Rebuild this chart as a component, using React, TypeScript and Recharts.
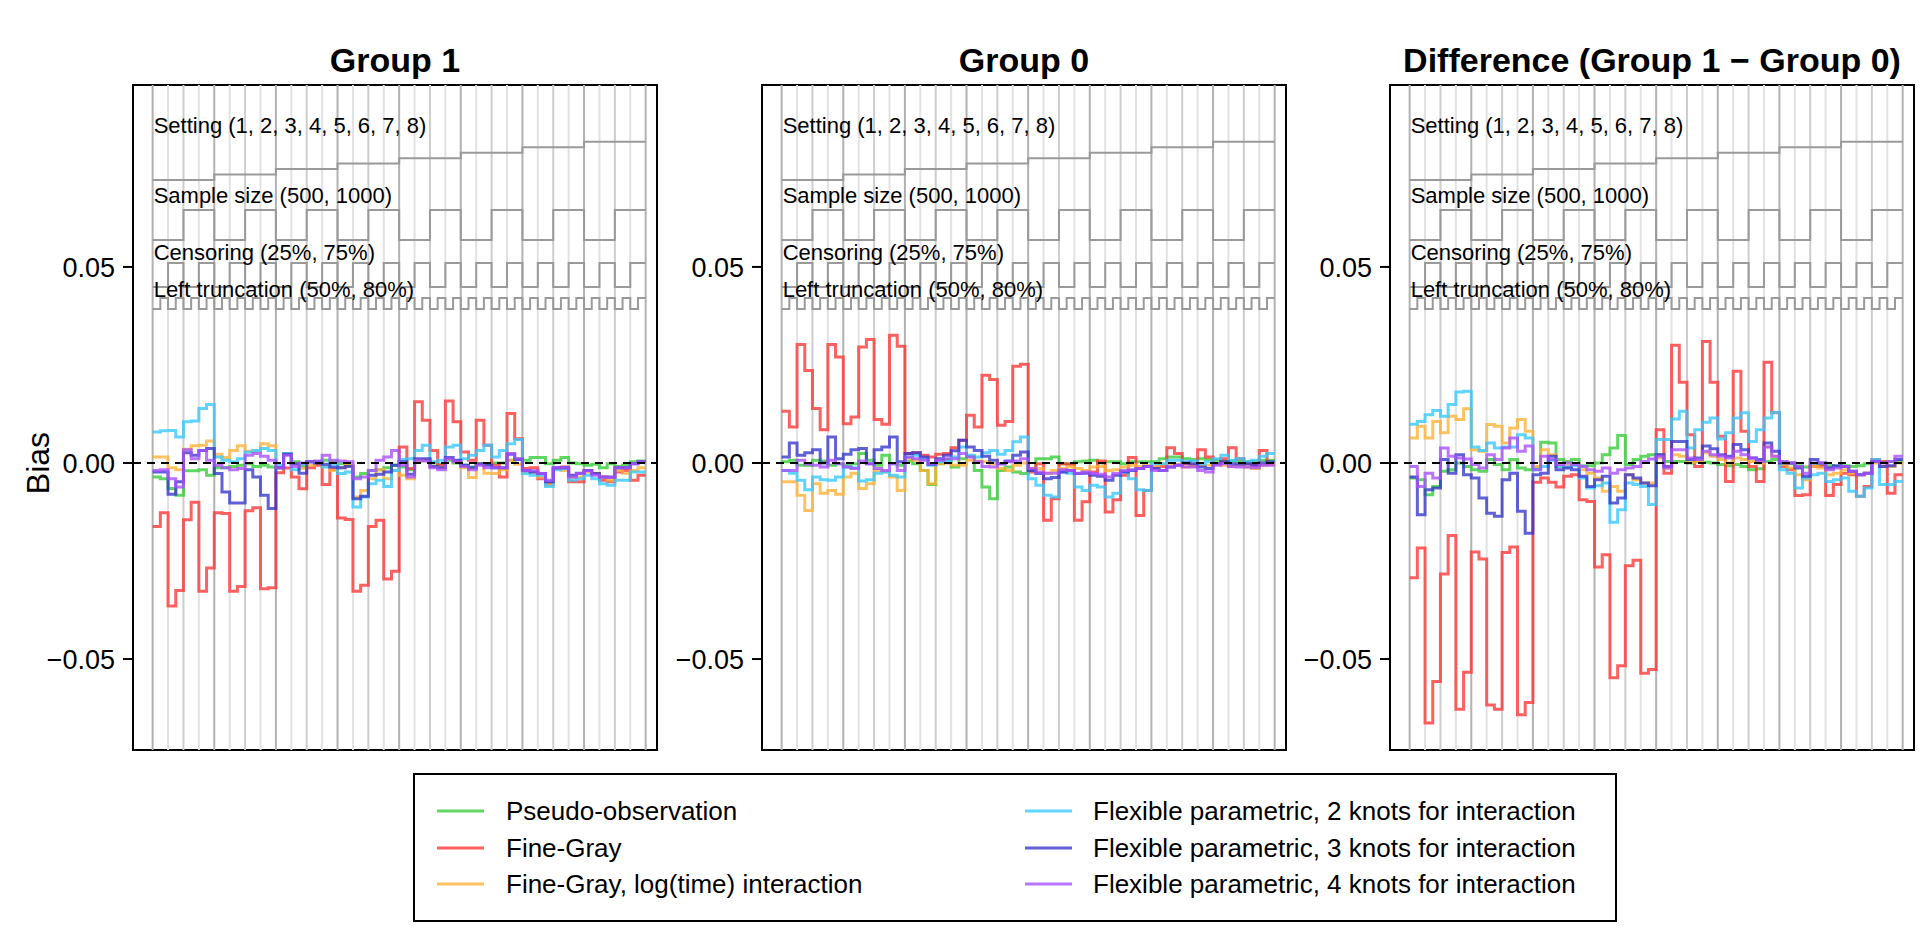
import React from "react";
import { LineChart, Line, XAxis, YAxis, ReferenceLine, ReferenceArea, ReferenceDot } from "recharts";

// nested design: 8 settings x 2 sample sizes x 2 censoring x 2 truncation = 64 scenarios
const settings = [1, 2, 3, 4, 5, 6, 7, 8];
const sampleSizes = [500, 1000];
const censoringLevels = ["25%", "75%"];
const truncationLevels = ["50%", "80%"];

const methodNames = [
  "Pseudo-observation",
  "Fine-Gray",
  "Fine-Gray, log(time) interaction",
  "Flexible parametric, 2 knots for interaction",
  "Flexible parametric, 3 knots for interaction",
  "Flexible parametric, 4 knots for interaction",
];
const methodKeys = ["pseudo", "fg", "fgLog", "flex2", "flex3", "flex4"];
const methodColors = ["#33cc33", "#ff3333", "#ffb133", "#33c8ff", "#3333cc", "#a64dff"];

const yTicks = [-0.05, 0, 0.05];

// bias values x 1000, one per scenario
const g1Pseudo = [-3.6, -4.0, -6.5, -8.2, -2.0, -2.0, -1.7, -3.1, -1.2, -1.2, -0.9, -0.6, -0.2, -0.9, -0.6, -1.0, -1.2, 2.2, 0.3, -0.9, 0.3, 0, 0.7, 0.3, -0.2, -0.6, -3.6, -2.7, -1.9, -1.7, -1.2, -0.6, -1.0, -1.7, 0.7, 0.7, 0, -0.3, 0.7, 0, -0.6, -1.0, -0.2, -0.2, 0, 0, 0.7, 1.1, 0.7, 1.4, 1.4, -0.2, 0.7, 1.4, 0, -0.2, -0.6, -0.3, -1.2, -0.2, -0.9, -0.6, 0.3, 0.5];
const g1Fg = [-16.2, -12.7, -36.5, -32.5, -14.5, -10.0, -32.7, -26.8, -12.7, -12.9, -32.7, -31.5, -12.2, -11.4, -32.1, -31.8, -2.5, -1.3, -3.6, -6.6, -1.2, -0.6, -5.5, -1.6, -14.0, -14.4, -32.7, -31.2, -16.2, -14.6, -29.6, -27.6, 4.1, -1.4, 15.6, 10.9, 3.2, -0.6, 15.8, 10.5, 2.8, 0.7, 10.9, 4.5, -0.6, -3.6, 12.6, 6.2, -1.4, -1.2, -4.0, -5.3, -1.4, -1.0, -4.8, -4.8, -1.9, -2.7, -4.4, -4.8, -2.3, -1.9, -4.4, -3.1];
const g1FgLog = [1.5, 1.5, -1.2, -1.7, 3.5, 4.4, 4.5, 5.6, 2.2, 1.4, 3.2, 4.4, 3.0, 3.0, 4.9, 4.4, -1.2, 2.4, -0.2, -1.4, -0.6, 0.3, -0.9, -1.9, -1.2, -0.6, -8.7, -7.0, -4.0, -1.7, -4.0, -1.9, -3.1, -4.0, 0.7, 0.7, -0.9, -1.2, 1.1, 0.3, -1.2, -3.7, -0.2, -2.6, -2.7, -1.7, 0.7, -0.3, -2.3, -2.3, -3.6, -5.7, -1.4, -1.9, -3.7, -3.6, -2.3, -2.7, -3.6, -4.4, -1.9, -2.6, -1.9, -1.2];
const g1Flex2 = [7.9, 8.2, 8.3, 6.6, 10.5, 10.7, 13.9, 14.9, 1.5, 0.7, 0.3, 1.1, 2.8, 3.2, 3.7, 3.2, -0.6, 2.4, -1.7, -0.2, 0.3, 0.3, -1.0, -0.2, -2.7, -2.3, -11.2, -8.7, -5.3, -4.4, -6.0, -1.9, 0.9, 1.1, 3.2, 4.5, 0.3, 0.7, 4.1, 4.5, 1.1, 2.0, 3.2, 4.5, 1.5, 3.2, 4.9, 6.0, -2.7, -3.1, -3.1, -6.0, -1.7, -1.4, -4.4, -4.0, -3.1, -4.0, -5.3, -5.7, -4.4, -4.4, -2.3, -2.3];
const g1Flex3 = [-2.3, -2.3, -8.0, -4.8, 2.6, 2.0, 3.2, 3.7, -2.7, -7.4, -10.2, -10.2, -1.7, -3.6, -8.2, -11.6, -1.2, 2.2, -0.2, -2.6, 0.3, 0, -0.3, -1.0, -1.2, -0.9, -9.1, -8.5, -3.1, -2.9, -2.3, -0.6, 0.3, -2.9, 1.1, 1.1, -0.9, -1.2, 1.4, 0.7, -0.6, -1.2, -0.2, -0.6, -1.2, -1.2, 2.2, 0.9, -1.9, -2.3, -2.7, -4.8, -1.2, -1.2, -3.1, -2.6, -1.9, -2.7, -3.6, -3.6, -1.2, -1.2, -0.2, 0.3];
const g1Flex4 = [-1.9, -1.7, -4.0, -6.1, 3.4, 1.1, 3.2, 0.7, -0.6, -1.2, -1.7, -1.4, 2.0, 2.4, 1.7, 0.7, -1.2, 2.0, -0.9, 0, 0.3, 0.5, 2.0, 0.7, 0.5, 0.3, -4.0, -3.6, -1.9, 0.7, 1.5, 3.2, -0.6, -3.6, 0.7, 0.5, -1.2, -1.7, 1.1, 0.3, -0.9, -1.7, -0.6, -1.2, -1.2, -1.2, 2.4, 1.1, -1.9, -2.0, -2.7, -4.4, -1.2, -1.2, -3.6, -2.7, -2.0, -3.1, -3.6, -3.7, -1.2, -1.2, -0.2, 0.3];

const g0Pseudo = [0.3, 0.7, -0.6, -0.6, 0.7, 0.5, -0.6, -0.2, -0.6, -0.2, 2.4, 0.7, -0.6, 2.0, -0.2, -0.6, 0.5, -0.2, -1.9, -5.5, -0.2, 0.9, -1.0, 1.1, 1.7, -1.9, -6.1, -9.1, -1.9, -1.0, -2.3, -2.7, -1.9, 1.1, 1.1, 1.5, -0.2, -0.2, 0.3, 0.5, 0.7, 0, 0.3, 0.3, -0.2, 0.3, 0.3, 0.3, 0.3, 1.1, 1.5, 1.5, 1.1, 0.9, 1.1, 0.9, 0.7, 0.5, 0.5, 0.5, 0.3, 0.3, 0.7, 0.7];
const g0Fg = [13.2, 9.2, 30.2, 23.6, 13.9, 8.5, 30.2, 27.0, 10.0, 11.7, 29.6, 31.5, 11.1, 9.9, 32.6, 29.8, 2.4, 2.6, 2.0, 1.5, 2.2, 2.4, 3.9, 5.8, 12.2, 9.2, 22.4, 21.3, 9.6, 10.6, 24.7, 25.2, -2.3, -0.2, -14.6, -9.1, -0.2, -0.3, -14.6, -9.9, -2.3, 0.5, -12.5, -9.4, -3.1, 1.4, -13.4, -7.0, -1.0, -0.9, 3.9, 2.4, -0.2, -0.6, 3.4, 1.5, -0.2, 1.1, 3.9, 1.1, -0.2, -0.6, 3.2, -0.3];
const g0FgLog = [-4.8, -4.8, -8.2, -12.1, -5.3, -7.7, -7.0, -8.0, -3.6, -2.6, -6.5, -5.3, -1.9, -2.3, -3.6, -7.0, 1.1, 0.7, -1.9, -5.3, -0.2, 0, -0.6, -0.6, 0.7, 0.5, 0.3, -0.2, -1.4, -1.9, -0.6, 0, -1.4, -1.4, -2.6, -1.9, -1.4, -1.0, -1.4, -1.9, -1.0, -0.9, -1.9, -1.7, -1.0, -0.6, -0.9, -0.6, -0.9, -0.2, -0.2, -0.3, -1.0, -0.9, -0.6, -0.6, -0.2, -0.6, -0.9, -0.6, -1.0, -1.4, -0.6, -0.3];
const g0Flex2 = [-1.9, -2.6, -4.4, -6.8, -3.6, -4.3, -4.4, -3.6, -1.0, -1.2, -4.6, -4.3, -2.6, -2.3, -3.1, -3.6, 1.5, 2.0, 1.1, -0.6, 0.3, 0.5, 1.5, 4.1, 2.0, 1.5, 2.6, 3.2, 2.2, 3.2, 5.4, 6.6, -4.0, -5.7, -8.2, -8.7, -2.3, -2.6, -6.1, -7.0, -5.7, -6.1, -8.7, -7.7, -2.3, -4.0, -6.8, -7.0, -0.2, -0.2, 0.7, 0.7, 0.3, 0.5, -0.2, 0.3, 1.1, 2.0, 0.7, 1.1, 0.3, 0.7, 1.7, 2.4];
const g0Flex3 = [1.5, 5.1, 2.0, 2.6, 3.4, 0, 6.6, 1.1, 2.2, 3.4, 3.7, -0.2, 3.4, 4.1, 6.6, 0.3, 2.4, 2.6, 1.5, -0.3, 1.1, 2.0, 3.1, 5.8, 4.1, 3.2, 1.7, 0.7, -0.2, 0.5, 2.0, 2.8, -1.9, -2.7, -4.0, -3.7, -2.3, -1.9, -2.7, -2.6, -3.1, -3.4, -4.4, -3.1, -2.3, -1.9, -1.4, -0.9, -1.4, -1.9, -1.0, -0.6, 0, -0.2, -1.0, -1.4, -0.2, 0.3, -0.2, -0.3, -0.2, -0.6, 0, 0.3];
const g0Flex4 = [-1.9, -1.9, 0.7, -0.3, -0.6, -1.0, 0.7, -0.2, -1.0, -1.4, 0.5, -0.2, -1.4, -1.9, -0.2, -1.9, 1.5, 1.1, 0.7, -0.2, 0.7, 1.1, 1.1, 2.4, 1.5, 0.3, -0.9, -1.0, -0.2, 0.3, 0.5, 1.1, -1.4, -2.3, -2.6, -2.6, -1.7, -1.9, -2.6, -2.3, -2.7, -2.9, -3.6, -2.7, -1.9, -1.7, -1.4, -0.9, -1.9, -1.9, -1.0, -0.6, -1.0, -1.0, -1.9, -2.3, -0.6, -0.2, -0.9, -1.0, -1.0, -1.2, -0.6, -0.6];

const dPseudo = [-3.8, -4.3, -8.1, -6.0, -2.1, -1.7, 0, -0.9, -1.7, -2.1, 0.9, -0.4, -1.7, 0.9, -1.3, -1.7, -1.3, 5.3, 5.1, 0.9, 0.4, 0.9, -0.7, -0.7, 0, 2.1, 3.8, 7.0, -0.4, 0.9, 1.7, 2.1, 2.1, 0.4, 0.4, 0.4, 0, 0.4, 0.2, 0, -0.4, -0.7, -0.4, -0.9, -1.7, -1.5, 0.4, 0.9, 0, -0.2, -0.7, -1.0, -0.7, -0.4, -0.7, -0.9, -0.7, -0.9, -0.7, -0.2, 0.4, 0.2, 0.4, 0.4];
const dFg = [-29.3, -21.7, -66.3, -55.7, -28.3, -18.5, -62.8, -53.4, -22.7, -24.5, -61.7, -62.8, -22.8, -21.4, -64.2, -61.1, -4.9, -3.8, -4.9, -6.1, -3.4, -3.0, -9.4, -9.8, -26.5, -23.4, -54.8, -51.7, -26.2, -24.8, -53.6, -52.7, 8.5, -2.6, 30.0, 20.6, 7.2, -0.9, 31.0, 20.6, 6.8, -4.7, 23.4, 8.1, -0.9, -4.7, 25.7, 12.8, -0.9, -1.7, -8.3, -8.1, -0.9, -0.9, -8.3, -5.5, -2.6, -3.0, -8.5, -6.0, 0.9, 0.4, -7.7, -3.0];
const dFgLog = [6.4, 9.4, 6.4, 10.6, 7.7, 11.9, 11.1, 13.8, 3.4, 3.0, 9.8, 9.4, 5.1, 8.9, 11.1, 8.1, -0.9, 3.4, 2.1, -0.9, -0.7, -0.2, -1.7, -2.6, -3.8, -7.2, -6.0, -7.2, -3.0, -4.3, -5.1, -5.1, 1.3, -1.3, 2.1, 1.7, 0.2, 0.4, 2.6, 1.7, 0.9, 0, 1.3, 0.9, 0.4, 0, 4.1, 1.7, -0.4, -1.3, -3.0, -4.3, -0.9, -1.3, -3.0, -2.6, -1.7, -2.6, -3.0, -2.6, 0, -0.9, -0.9, 0];
const dFlex2 = [9.9, 10.6, 12.3, 13.4, 11.9, 14.9, 18.1, 18.3, 4.1, 3.2, 5.1, 3.8, 4.1, 4.1, 7.2, 6.4, -1.7, -0.9, 0.7, -0.9, -1.0, -0.7, -3.8, -6.4, -5.8, -5.1, -15.1, -11.9, -5.1, -5.5, -6.0, -10.6, 6.0, 6.0, 11.2, 13.2, 3.8, 8.5, 10.4, 11.5, 6.1, 7.7, 11.5, 12.8, 5.5, 8.5, 11.5, 12.9, -1.7, -2.6, -6.4, -3.8, -3.0, -2.6, -4.7, -4.3, -3.8, -7.2, -8.5, -6.4, 0.9, -5.5, -5.5, -4.7];
const dFlex3 = [-3.6, -13.2, -6.8, -6.4, 0.9, -2.6, 2.1, -3.0, -3.8, -8.9, -12.8, -13.6, -4.3, -2.6, -12.3, -17.9, -3.0, -2.6, 1.7, -1.7, -1.3, -1.7, -3.4, -6.0, -4.3, -3.4, -10.2, -8.9, -3.0, -3.8, -5.1, -5.8, 2.1, -0.9, 5.5, 5.5, 0.9, 1.3, 4.3, 3.6, 2.1, 1.7, 4.7, 3.4, 1.3, 0.9, 5.1, 3.0, 0, 0, -1.3, -3.4, 0.9, 0, -1.3, -0.7, -0.9, -2.1, -3.0, -2.6, 0.4, -0.9, -0.7, 0.9];
const dFlex4 = [-0.9, -6.0, -2.6, -3.8, 3.8, 1.7, 1.3, 1.0, -0.4, -1.3, 2.1, 0.9, 3.8, 6.4, 3.0, 4.3, -1.7, 1.7, 0.9, -0.4, 0, -0.4, -0.9, -1.7, -2.1, -1.3, -2.6, -1.7, -1.3, -0.9, 0.4, 1.0, 1.7, -1.3, 3.4, 3.4, 1.3, 0.9, 3.0, 2.1, 1.7, 1.3, 3.0, 2.1, 1.3, 0.4, 4.1, 1.7, 0.4, 0, -0.9, -2.6, 0, 0, -1.7, -1.3, -0.9, -2.1, -3.0, -2.6, 0.4, 0, 0.4, 1.7];

const FONT = '"Liberation Sans", Arial, Helvetica, sans-serif';
const PLOT_W = 524;
const PLOT_TOP = 85;
const PLOT_BOTTOM = 750;
const AXIS_W = 130;
const X_DOMAIN: [number, number] = [-2.55, 65.47];
const Y_DOMAIN: [number, number] = [-0.0732, 0.0964];

// y positions (in bias units) for the design indicator step lines
const SETTING_BASE = 0.0722;
const SETTING_STEP = 0.001386;
const SIZE_Y = [0.0569, 0.0645];
const CENS_Y = [0.0449, 0.051];
const TRUNC_Y = [0.0393, 0.0421];

const indicatorLabels = [
  { text: `Setting (${settings.join(", ")})`, y: 0.0842 },
  { text: `Sample size (${sampleSizes.join(", ")})`, y: 0.0663 },
  { text: `Censoring (${censoringLevels.join(", ")})`, y: 0.0518 },
  { text: `Left truncation (${truncationLevels.join(", ")})`, y: 0.0423 },
];

const nScen = settings.length * sampleSizes.length * censoringLevels.length * truncationLevels.length;

function buildRows(series: number[][]) {
  const rows: Record<string, number>[] = [];
  for (let i = 0; i <= nScen; i++) {
    const j = Math.min(i, nScen - 1);
    const row: Record<string, number> = { x: i };
    methodKeys.forEach((k, s) => {
      row[k] = series[s][j] / 1000;
    });
    row.setting = SETTING_BASE + Math.floor(j / 8) * SETTING_STEP;
    row.size = SIZE_Y[Math.floor(j / 4) % 2];
    row.cens = CENS_Y[Math.floor(j / 2) % 2];
    row.trunc = TRUNC_Y[j % 2];
    rows.push(row);
  }
  return rows;
}

const boundaries = Array.from({ length: nScen / 2 + 1 }, (_, k) => k * 2);

function boundaryColor(x: number) {
  if (x % 8 === 0) return "#b2b2b2";
  if (x % 4 === 0) return "#cdcdcd";
  return "#e2e2e2";
}

function fmtTick(v: number) {
  if (v === 0) return "0.00";
  return (v < 0 ? "\u2212" : "") + Math.abs(v).toFixed(2);
}

type PanelProps = { left: number; series: number[][] };

function Panel({ left, series }: PanelProps) {
  const rows = buildRows(series);
  return (
    <div style={{ position: "absolute", left: left - AXIS_W, top: 0 }}>
      <LineChart
        width={AXIS_W + PLOT_W + 6}
        height={PLOT_BOTTOM + 6}
        data={rows}
        margin={{ top: PLOT_TOP, right: 6, bottom: 6, left: 0 }}
      >
        <XAxis dataKey="x" type="number" domain={X_DOMAIN} hide allowDataOverflow />
        <YAxis
          type="number"
          domain={Y_DOMAIN}
          ticks={yTicks}
          allowDataOverflow
          width={AXIS_W}
          axisLine={false}
          tickLine={{ stroke: "#000", strokeWidth: 2 }}
          tickSize={10}
          tickMargin={8}
          tickFormatter={fmtTick}
          tick={{ fontSize: 27, fill: "#000", fontFamily: FONT }}
        />
        {boundaries.map((b) => (
          <ReferenceLine key={b} x={b} stroke={boundaryColor(b)} strokeWidth={2} />
        ))}
        {["setting", "size", "cens", "trunc"].map((k) => (
          <Line
            key={k}
            dataKey={k}
            type="stepAfter"
            stroke="#9a9a9a"
            strokeWidth={2}
            dot={false}
            isAnimationActive={false}
          />
        ))}
        {indicatorLabels.map((l) => (
          <ReferenceDot
            key={l.text}
            x={0}
            y={l.y}
            r={0}
            shape={(p: any) => (
              <text x={p.cx + 1} y={p.cy} fontSize={22} fontFamily={FONT} fill="#000">
                {l.text}
              </text>
            )}
          />
        ))}
        {methodKeys.map((k, s) => (
          <Line
            key={k}
            dataKey={k}
            type="stepAfter"
            stroke={methodColors[s]}
            strokeOpacity={0.78}
            strokeWidth={3}
            dot={false}
            isAnimationActive={false}
          />
        ))}
        <ReferenceLine y={0} stroke="#000" strokeWidth={2} strokeDasharray="8 6" />
        <ReferenceArea
          x1={X_DOMAIN[0]}
          x2={X_DOMAIN[1]}
          y1={Y_DOMAIN[0]}
          y2={Y_DOMAIN[1]}
          fill="none"
          fillOpacity={0}
          stroke="#000"
          strokeWidth={2}
          strokeOpacity={1}
        />
      </LineChart>
    </div>
  );
}

const panelLefts = [133, 762, 1390];
const panelTitles = ["Group 1", "Group 0", "Difference (Group 1 \u2212 Group 0)"];

export default function App() {
  const panelSeries = [
    [g1Pseudo, g1Fg, g1FgLog, g1Flex2, g1Flex3, g1Flex4],
    [g0Pseudo, g0Fg, g0FgLog, g0Flex2, g0Flex3, g0Flex4],
    [dPseudo, dFg, dFgLog, dFlex2, dFlex3, dFlex4],
  ];
  const legendCols = [
    { lineX: 437, textX: 506 },
    { lineX: 1025, textX: 1093 },
  ];
  const legendRows = [811, 848, 884];
  return (
    <div style={{ position: "absolute", left: 0, top: 0, width: 1920, height: 930, background: "#fff", fontFamily: FONT }}>
      {panelSeries.map((s, i) => (
        <Panel key={i} left={panelLefts[i]} series={s} />
      ))}
      <svg width={1920} height={930} style={{ position: "absolute", left: 0, top: 0, pointerEvents: "none" }}>
        {panelTitles.map((t, i) => (
          <text
            key={t}
            x={panelLefts[i] + PLOT_W / 2}
            y={72}
            textAnchor="middle"
            fontSize={34}
            fontWeight="bold"
            fontFamily={FONT}
            fill="#000"
          >
            {t}
          </text>
        ))}
        <text
          x={49}
          y={463}
          transform="rotate(-90 49 463)"
          textAnchor="middle"
          fontSize={32}
          fontFamily={FONT}
          fill="#000"
        >
          Bias
        </text>
        <rect x={414} y={774} width={1202} height={147} fill="none" stroke="#000" strokeWidth={2} />
        {methodNames.map((name, i) => {
          const col = legendCols[Math.floor(i / 3)];
          const cy = legendRows[i % 3];
          return (
            <g key={name}>
              <line
                x1={col.lineX}
                x2={col.lineX + 47}
                y1={cy}
                y2={cy}
                stroke={methodColors[i]}
                strokeOpacity={0.78}
                strokeWidth={3}
              />
              <text x={col.textX} y={cy + 9} fontSize={26} fontFamily={FONT} fill="#000">
                {name}
              </text>
            </g>
          );
        })}
      </svg>
    </div>
  );
}
